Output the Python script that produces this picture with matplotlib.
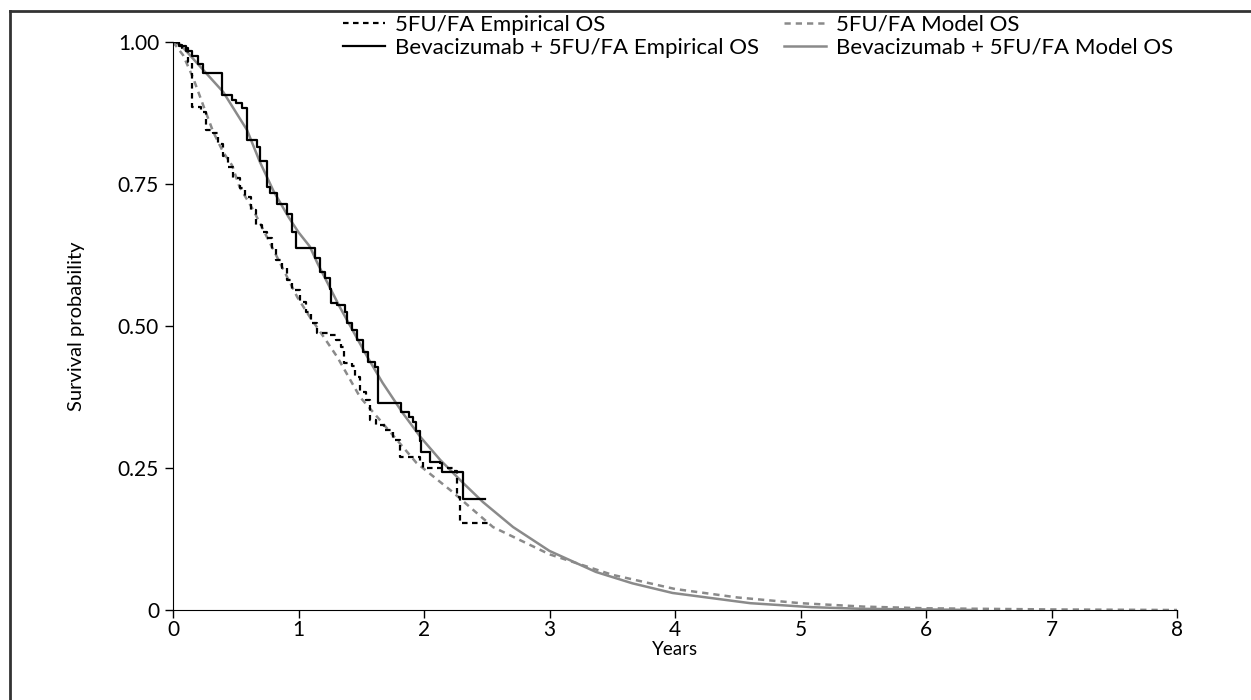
#!/usr/bin/env python
import matplotlib
matplotlib.use('Agg')
import matplotlib.pyplot as plt
from matplotlib.lines import Line2D

# Kaplan-Meier style step data (time in years, survival after step)
bev_emp_t = [0, 0.05, 0.10, 0.15, 0.20, 0.24, 0.39, 0.47, 0.50, 0.55, 0.59, 0.67, 0.69,
             0.75, 0.77, 0.83, 0.91, 0.95, 0.98, 1.13, 1.17, 1.21, 1.25, 1.26, 1.31, 1.37,
             1.39, 1.43, 1.47, 1.51, 1.55, 1.61, 1.63, 1.82, 1.88, 1.91, 1.94, 1.97, 1.98,
             2.05, 2.13, 2.14, 2.31, 2.49]
bev_emp_s = [1.0, 0.993, 0.985, 0.975, 0.962, 0.945, 0.907, 0.898, 0.893, 0.884, 0.828, 0.815, 0.790,
             0.745, 0.735, 0.715, 0.697, 0.665, 0.637, 0.620, 0.595, 0.585, 0.565, 0.540, 0.537, 0.525,
             0.505, 0.493, 0.475, 0.455, 0.437, 0.428, 0.364, 0.349, 0.340, 0.331, 0.315, 0.298, 0.278,
             0.261, 0.258, 0.243, 0.195, 0.195]

fu_emp_t = [0, 0.03, 0.07, 0.12, 0.15, 0.22, 0.26, 0.32, 0.36, 0.40, 0.44, 0.48, 0.53, 0.57,
            0.62, 0.66, 0.71, 0.75, 0.79, 0.82, 0.87, 0.91, 0.95, 1.01, 1.06, 1.10, 1.15, 1.24,
            1.30, 1.34, 1.36, 1.43, 1.45, 1.49, 1.54, 1.57, 1.62, 1.68, 1.75, 1.81, 1.97, 1.99,
            2.24, 2.26, 2.29, 2.51]
fu_emp_s = [1.0, 0.995, 0.99, 0.965, 0.885, 0.877, 0.845, 0.84, 0.82, 0.80, 0.78, 0.76, 0.743, 0.727,
            0.705, 0.678, 0.665, 0.655, 0.636, 0.616, 0.602, 0.581, 0.563, 0.542, 0.525, 0.505, 0.488, 0.484,
            0.475, 0.463, 0.435, 0.43, 0.41, 0.384, 0.37, 0.335, 0.325, 0.317, 0.30, 0.27, 0.262, 0.25,
            0.244, 0.199, 0.153, 0.153]

# model curves
bev_mod_t = [0, 0.06, 0.24, 0.40, 0.59, 0.69, 0.80, 0.92, 1.0, 1.09, 1.15, 1.33, 1.55, 1.67, 1.83,
             1.97, 2.13, 2.31, 2.47, 2.71, 3.0, 3.37, 3.66, 3.98, 4.6, 5.09, 5.5, 6.0, 6.4]
bev_mod_s = [1.0, 0.995, 0.951, 0.912, 0.845, 0.790, 0.738, 0.692, 0.665, 0.640, 0.611, 0.533, 0.445,
             0.400, 0.347, 0.305, 0.264, 0.224, 0.190, 0.146, 0.104, 0.067, 0.047, 0.030, 0.012, 0.005,
             0.002, 0.001, 0.0]

fu_mod_t = [0, 0.08, 0.16, 0.24, 0.32, 0.40, 0.47, 0.53, 0.64, 0.72, 0.83, 0.88, 0.99, 1.09, 1.20,
            1.31, 1.49, 1.67, 1.94, 2.21, 2.55, 3.0, 3.5, 4.0, 4.5, 5.0, 5.5, 6.0, 7.0, 8.0]
fu_mod_s = [1.0, 0.977, 0.937, 0.889, 0.842, 0.806, 0.783, 0.745, 0.704, 0.669, 0.621, 0.599, 0.551,
            0.516, 0.481, 0.445, 0.375, 0.329, 0.259, 0.211, 0.146, 0.098, 0.062, 0.037, 0.022, 0.012,
            0.006, 0.003, 0.001, 0.0]

y_ticks = [0, 0.25, 0.50, 0.75, 1.00]
y_labels = ['0', '0.25', '0.50', '0.75', '1.00']
x_ticks = [0, 1, 2, 3, 4, 5, 6, 7, 8]

plt.rcParams['font.family'] = ['Lato', 'DejaVu Sans']
plt.rcParams['font.size'] = 15

fig = plt.figure(figsize=(12.51, 7.0), dpi=100)
ax = fig.add_axes([173 / 1251, 1 - 610 / 700, 1004 / 1251, 568 / 700])

gray = '#8a8a8a'
ax.step(fu_emp_t, fu_emp_s, where='post', color='black', lw=1.6, ls=(0, (2.5, 2)),
        label='5FU/FA Empirical OS', zorder=3)
ax.plot(fu_mod_t, fu_mod_s, color=gray, lw=1.8, ls=(0, (2.5, 2)), label='5FU/FA Model OS', zorder=2)
ax.step(bev_emp_t, bev_emp_s, where='post', color='black', lw=1.6,
        label='Bevacizumab + 5FU/FA Empirical OS', zorder=3)
ax.plot(bev_mod_t, bev_mod_s, color=gray, lw=1.8, label='Bevacizumab + 5FU/FA Model OS', zorder=2)

ax.set_xlim(0, 8)
ax.set_ylim(0, 1)
ax.set_xticks(x_ticks)
ax.set_xticklabels([str(x) for x in x_ticks])
ax.set_yticks(y_ticks)
ax.set_yticklabels(y_labels)
ax.spines['top'].set_visible(False)
ax.spines['right'].set_visible(False)
ax.tick_params(direction='out', length=6, width=1, colors='black', labelsize=15)
ax.tick_params(axis='x', pad=1)
ax.tick_params(axis='y', pad=4)
ax.set_xlabel('Years', fontsize=13.5, labelpad=1)
ax.set_ylabel('Survival probability', fontsize=14.5, labelpad=24)

# legend split into two columns, above the plot area
handles, labels = ax.get_legend_handles_labels()
order = [0, 2, 1, 3]
fig.legend([handles[i] for i in order], [labels[i] for i in order], ncol=2, frameon=False,
           loc='upper right', bbox_to_anchor=(1182 / 1251, 1 - 6 / 700), borderaxespad=0,
           fontsize=16, handlelength=1.9, columnspacing=1.1, labelspacing=0.12, handletextpad=0.45)

# outer frame (only left and top edges visible)
fig.add_artist(Line2D([10 / 1251, 10 / 1251], [0, 1 - 11 / 700], transform=fig.transFigure,
                      color='#333333', lw=2))
fig.add_artist(Line2D([10 / 1251, 1], [1 - 11 / 700, 1 - 11 / 700], transform=fig.transFigure,
                      color='#333333', lw=2))

plt.savefig('out.png', dpi=100)
